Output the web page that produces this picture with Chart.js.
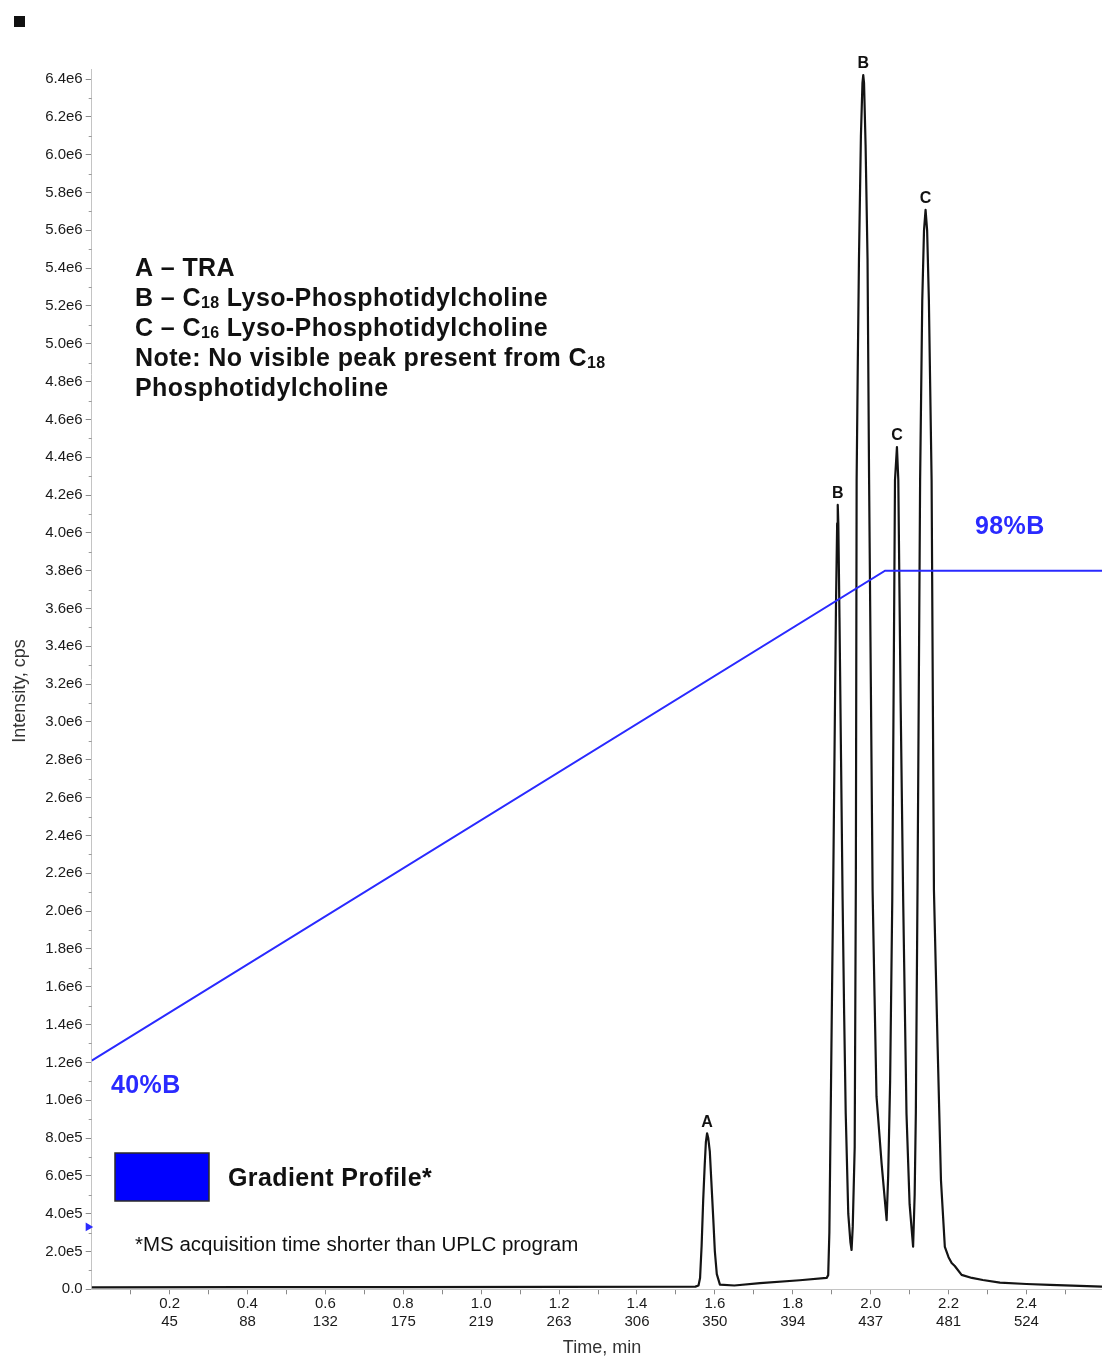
<!DOCTYPE html>
<html>
<head>
<meta charset="utf-8">
<title>UPLC-MS chromatogram</title>
<script src="https://cdn.jsdelivr.net/npm/chart.js@4.4.1/dist/chart.umd.min.js"></script>
<style>
  html, body { margin: 0; padding: 0; background: #ffffff; }
  #wrap { position: relative; width: 1102px; height: 1358px; }
</style>
</head>
<body>
<div id="wrap"><canvas id="chart"></canvas></div>
<script>
// ---- Chromatogram trace: retention time (min) and intensity (millions of cps) ----
const traceTime = [0.000, 0.400, 0.800, 1.200, 1.550, 1.558, 1.562, 1.566, 1.570, 1.574,
  1.577, 1.580, 1.583, 1.587, 1.591, 1.596, 1.600, 1.605, 1.613, 1.650,
  1.716, 1.818, 1.887, 1.891, 1.894, 1.898, 1.904, 1.908, 1.911, 1.914,
  1.9155, 1.917, 1.920, 1.924, 1.928, 1.932, 1.936, 1.9425, 1.948, 1.951,
  1.954, 1.959, 1.962, 1.964, 1.967, 1.970, 1.975, 1.979, 1.981, 1.983,
  1.987, 1.992, 1.996, 2.0005, 2.005, 2.010, 2.015, 2.028, 2.041, 2.045,
  2.050, 2.0555, 2.0625, 2.0675, 2.071, 2.077, 2.0835, 2.092, 2.100,
  2.109, 2.113, 2.116, 2.1205, 2.124, 2.127, 2.1325, 2.137, 2.141, 2.145,
  2.1495, 2.1565, 2.160, 2.1625, 2.172, 2.1805, 2.1905, 2.200, 2.208, 2.216,
  2.2335, 2.260, 2.288, 2.332, 2.400, 2.460, 2.594];
const traceIntensityM = [0.010, 0.011, 0.012, 0.013, 0.014, 0.020, 0.060, 0.230, 0.470, 0.660,
  0.780, 0.825, 0.800, 0.730, 0.570, 0.370, 0.200, 0.080, 0.025, 0.020,
  0.033, 0.048, 0.060, 0.075, 0.300, 1.040, 2.160, 3.000, 3.620, 4.050,
  4.148, 4.050, 3.550, 2.800, 2.060, 1.450, 0.930, 0.400, 0.250, 0.208,
  0.330, 0.750, 2.160, 4.280, 4.900, 5.450, 6.100, 6.380, 6.421, 6.380,
  6.050, 5.450, 4.280, 3.200, 2.110, 1.550, 1.020, 0.668, 0.366, 0.600,
  1.100, 2.060, 4.280, 4.454, 4.280, 3.100, 2.060, 0.930, 0.450,
  0.225, 0.500, 0.930, 2.160, 3.300, 4.280, 5.230, 5.600, 5.708, 5.600,
  5.230, 4.280, 3.000, 2.110, 1.280, 0.578, 0.224, 0.170, 0.139, 0.123,
  0.076, 0.060, 0.049, 0.035, 0.028, 0.023, 0.014];

// ---- UPLC gradient program (% mobile phase B) ----
const gradientTime = [0, 2.037, 2.594];
const gradientPercentB = [40, 98, 98];

// ---- Peak identities (apex time, apex intensity in millions of cps) ----
const peakLetters = ['A', 'B', 'B', 'C', 'C'];
const peakTimes = [1.580, 1.9155, 1.981, 2.0675, 2.141];
const peakHeightsM = [0.825, 4.148, 6.421, 4.454, 5.708];

// ---- Acquisition start marker on the intensity axis ----
const markerTime = [-0.009];
const markerIntensityM = [0.33];

// ---- Axis labels: time (min) over scan number ----
const xTickMinutes = [0.2, 0.4, 0.6, 0.8, 1.0, 1.2, 1.4, 1.6, 1.8, 2.0, 2.2, 2.4];
const xTickMinuteText = ['0.2', '0.4', '0.6', '0.8', '1.0', '1.2', '1.4', '1.6', '1.8', '2.0', '2.2', '2.4'];
const xTickScans = ['45', '88', '132', '175', '219', '263', '306', '350', '394', '437', '481', '524'];

// ---- Compound key text ----
const compoundKey = [
  [['A \u2013 TRA', false]],
  [['B \u2013 C', false], ['18', true], [' Lyso-Phosphotidylcholine', false]],
  [['C \u2013 C', false], ['16', true], [' Lyso-Phosphotidylcholine', false]],
  [['Note: No visible peak present from C', false], ['18', true]],
  [['Phosphotidylcholine', false]]
];

const FONT = '"Liberation Sans", Arial, Helvetica, sans-serif';
const BLUE = '#2a2aff';
const X_MAX = 2.594;
const Y_MAX = 6.45e6;
// hidden %B scale aligned so that 40 %B and 98 %B sit at their intensity positions
const PCT_MIN = 12.94;
const PCT_MAX = 157.31;

const traceData = traceTime.map((t, i) => ({ x: t, y: traceIntensityM[i] * 1e6 }));
const gradientData = gradientTime.map((t, i) => ({ x: t, y: gradientPercentB[i] }));
const markerData = markerTime.map((t, i) => ({ x: t, y: markerIntensityM[i] * 1e6 }));

function formatIntensity(v) {
  if (v === 0) return '0.0';
  const exp = v >= 1e6 ? 6 : 5;
  return (v / Math.pow(10, exp)).toFixed(1) + 'e' + exp;
}

const yTickValues = [];
for (let i = 0; i <= 64; i++) yTickValues.push(i * 1e5);
const xTickValues = [];
for (let i = 1; i <= 25; i++) xTickValues.push(i / 10);

function setLetterSpacing(ctx, v) {
  if ('letterSpacing' in ctx) ctx.letterSpacing = v;
}

const overlay = {
  id: 'overlay',
  afterDraw(chart) {
    const { ctx, scales } = chart;
    const x = scales.x, y = scales.y;
    ctx.save();

    // short minor ticks on the intensity axis
    ctx.strokeStyle = '#9a9a9a';
    ctx.lineWidth = 1;
    y.ticks.forEach((t, i) => {
      if (i % 2 === 1) {
        const py = Math.round(y.getPixelForValue(t.value)) + 0.5;
        ctx.beginPath();
        ctx.moveTo(y.right - 3, py);
        ctx.lineTo(y.right, py);
        ctx.stroke();
      }
    });

    // peak letters above each apex
    ctx.fillStyle = '#111';
    ctx.font = 'bold 16px ' + FONT;
    ctx.textAlign = 'center';
    ctx.textBaseline = 'middle';
    peakLetters.forEach((l, i) => {
      ctx.fillText(l, x.getPixelForValue(peakTimes[i]), y.getPixelForValue(peakHeightsM[i] * 1e6) - 11);
    });

    // compound key
    ctx.textAlign = 'left';
    setLetterSpacing(ctx, '0.4px');
    compoundKey.forEach((parts, li) => {
      let cx = 135;
      const cy = 269 + li * 30;
      parts.forEach(([txt, sub]) => {
        const fs = sub ? 16 : 25;
        ctx.font = 'bold ' + fs + 'px ' + FONT;
        ctx.fillText(txt, cx, sub ? cy + 5 : cy);
        cx += ctx.measureText(txt).width;
      });
    });

    // gradient end-point labels
    ctx.fillStyle = BLUE;
    ctx.font = 'bold 25px ' + FONT;
    ctx.fillText('40%B', 111, 1086);
    ctx.fillText('98%B', 975, 527);

    // gradient legend
    ctx.fillStyle = '#0000ff';
    ctx.fillRect(115, 1153, 94, 48);
    ctx.strokeStyle = '#2a2a2a';
    ctx.lineWidth = 1.5;
    ctx.strokeRect(115, 1153, 94, 48);
    ctx.fillStyle = '#111';
    ctx.font = 'bold 25px ' + FONT;
    ctx.fillText('Gradient Profile*', 228, 1179);
    setLetterSpacing(ctx, '0px');
    ctx.font = '20.5px ' + FONT;
    ctx.fillText('*MS acquisition time shorter than UPLC program', 135, 1245);

    // axis titles
    ctx.fillStyle = '#333';
    ctx.font = '18px ' + FONT;
    ctx.textAlign = 'center';
    ctx.fillText('Time, min', 602, 1348);
    ctx.save();
    ctx.translate(20, 691);
    ctx.rotate(-Math.PI / 2);
    ctx.fillText('Intensity, cps', 0, 0);
    ctx.restore();

    // figure panel mark
    ctx.fillStyle = '#111';
    ctx.fillRect(14, 16, 11, 11);

    ctx.restore();
  }
};

new Chart(document.getElementById('chart'), {
  type: 'line',
  data: {
    datasets: [
      {
        label: 'Gradient',
        data: gradientData,
        yAxisID: 'yPct',
        borderColor: BLUE,
        borderWidth: 2,
        pointRadius: 0,
        tension: 0,
        order: 0
      },
      {
        label: 'Intensity',
        data: traceData,
        yAxisID: 'y',
        borderColor: '#141414',
        borderWidth: 2.2,
        pointRadius: 0,
        tension: 0,
        borderJoinStyle: 'round',
        order: 1
      },
      {
        label: 'Start',
        data: markerData,
        yAxisID: 'y',
        showLine: false,
        pointStyle: 'triangle',
        rotation: 90,
        pointRadius: 5,
        backgroundColor: BLUE,
        borderWidth: 0,
        clip: false,
        order: 0
      }
    ]
  },
  options: {
    responsive: true,
    maintainAspectRatio: false,
    animation: false,
    events: [],
    layout: { autoPadding: false, padding: { top: 69.6, right: 0, bottom: 0, left: 0 } },
    plugins: { legend: { display: false }, tooltip: { enabled: false } },
    scales: {
      x: {
        type: 'linear',
        min: 0,
        max: X_MAX,
        afterBuildTicks: s => { s.ticks = xTickValues.map(v => ({ value: v })); },
        afterFit: s => { s.height = 68.7; },
        border: { color: '#c4c4c4', width: 1 },
        grid: { drawOnChartArea: false, drawTicks: true, tickLength: 5, tickColor: '#8a8a8a' },
        ticks: {
          autoSkip: false,
          maxRotation: 0,
          padding: 1,
          color: '#1a1a1a',
          font: { family: FONT, size: 15, lineHeight: 1.2 },
          callback: v => {
            const k = xTickMinutes.findIndex(m => Math.abs(m - v) < 1e-6);
            return k < 0 ? '' : [xTickMinuteText[k], xTickScans[k]];
          }
        }
      },
      y: {
        type: 'linear',
        min: 0,
        max: Y_MAX,
        afterBuildTicks: s => { s.ticks = yTickValues.map(v => ({ value: v })); },
        afterFit: s => { s.width = 91.7; },
        border: { color: '#c4c4c4', width: 1 },
        grid: {
          drawOnChartArea: false,
          drawTicks: true,
          tickLength: 6,
          tickColor: c => (c.index % 2 === 0 ? '#8a8a8a' : 'rgba(0,0,0,0)')
        },
        ticks: {
          autoSkip: false,
          padding: 3,
          color: '#1a1a1a',
          font: { family: FONT, size: 15 },
          callback: (v, i) => (i % 2 === 0 ? formatIntensity(v) : '')
        }
      },
      yPct: {
        type: 'linear',
        display: false,
        min: PCT_MIN,
        max: PCT_MAX
      }
    }
  },
  plugins: [overlay]
});
</script>
</body>
</html>
